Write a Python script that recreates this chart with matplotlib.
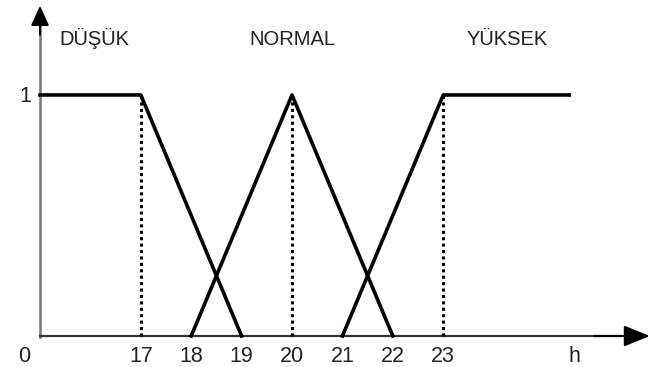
import matplotlib
matplotlib.use('Agg')
import matplotlib.pyplot as plt

# membership functions (x in hours, y membership degree)
dusuk_x = [15, 17, 19]
dusuk_y = [1, 1, 0]
normal_x = [18, 20, 22]
normal_y = [0, 1, 0]
yuksek_x = [21, 23, 25.5]
yuksek_y = [0, 1, 1]

peaks = [17, 20, 23]  # dotted guides
tick_pos = [17, 18, 19, 20, 21, 22, 23]
tick_labels = ['17', '18', '19', '20', '21', '22', '23']
set_names = ['DÜŞÜK', 'NORMAL', 'YÜKSEK']
name_pos = [16.07, 20.0, 24.27]

fig = plt.figure(figsize=(6.51, 3.67), dpi=100)
ax = fig.add_axes([0, 0, 1, 1])
ax.set_xlim(14.206, 27.123)
ax.set_ylim(-0.1286, 1.394)
ax.axis('off')

# axes: plain lines plus black arrow heads
ax.plot([15, 15], [-0.004, 1.3], color='#777777', lw=1.8)
ax.plot([15, 26.5], [0, 0], color='#333333', lw=1.6)
ax.annotate('', xy=(27.1, 0), xytext=(26.0, 0), annotation_clip=False,
            arrowprops=dict(arrowstyle='-|>,head_length=1.6,head_width=0.65',
                            color='black', lw=1.5, shrinkA=0, shrinkB=0))
ax.annotate('', xy=(15, 1.37), xytext=(15, 1.25), annotation_clip=False,
            arrowprops=dict(arrowstyle='-|>,head_length=1.2,head_width=0.55',
                            color='black', lw=1.5, shrinkA=0, shrinkB=0))

for p in peaks:
    ax.plot([p, p], [0, 1], color='black', lw=2.2, linestyle=(0, (1, 1.1)))

for xs, ys in [(dusuk_x, dusuk_y), (normal_x, normal_y), (yuksek_x, yuksek_y)]:
    ax.plot(xs, ys, color='black', lw=2.6, solid_joinstyle='round')

num = dict(color='#222222', fontsize=15.5, fontfamily='Liberation Sans')
for p, lab in zip(tick_pos, tick_labels):
    ax.text(p, -0.108, lab, ha='center', va='baseline', **num)
ax.text(14.68, -0.108, '0', ha='center', va='baseline', **num)
ax.text(25.6, -0.108, 'h', ha='center', va='baseline', **num)
ax.text(14.82, 0.971, '1', ha='right', va='baseline', **num)

for n, x in zip(set_names, name_pos):
    ax.text(x, 1.207, n, ha='center', va='baseline', color='#222222',
            fontsize=14.5, fontfamily='Liberation Sans')

fig.savefig('out.png', dpi=100)
